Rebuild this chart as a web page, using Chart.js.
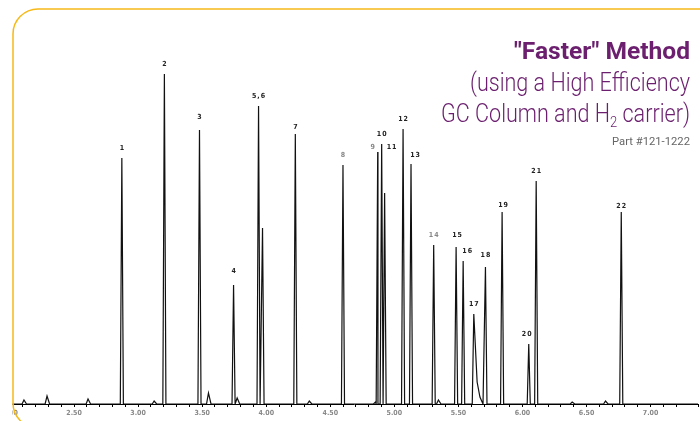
<!DOCTYPE html>
<html>
<head>
<meta charset="utf-8">
<script src="https://cdn.jsdelivr.net/npm/chart.js@4/dist/chart.umd.min.js"></script>
<style>
  html, body { margin: 0; padding: 0; background: #fff; }
  #wrap { width: 700px; height: 421px; position: relative; }
</style>
</head>
<body>
<div id="wrap"><canvas id="chrom"></canvas></div>
<script>
// retention time (min) and height (response, arbitrary units) of the numbered peaks
const peakNames   = ['1', '2', '3', '4', '5', '6', '7', '8', '9', '10', '11',
                     '12', '13', '14', '15', '16', '17', '18', '19', '20', '21', '22'];
const peakTimes   = [2.873, 3.205, 3.479, 3.745, 3.940, 3.971, 4.227, 4.599, 4.870, 4.901, 4.924,
                     5.068, 5.130, 5.307, 5.482, 5.537, 5.620, 5.711, 5.841, 6.049, 6.107, 6.771];
const peakHeights = [246, 330, 274, 119, 298, 176, 270, 239, 252, 260, 211,
                     275, 240, 159, 157, 143, 90, 137, 192, 60, 223, 192];
const peakTailing = [0.012, 0.012, 0.012, 0.012, 0.012, 0.012, 0.012, 0.012, 0.012, 0.011, 0.012,
                     0.012, 0.012, 0.012, 0.012, 0.012, 0.072, 0.012, 0.012, 0.012, 0.012, 0.012];
// what gets printed over each peak ('' = none, 5 and 6 share one label)
const peakLabels  = ['1', '2', '3', '4', '5,6', '', '7', '8', '9', '10', '11',
                     '12', '13', '14', '15', '16', '17', '18', '19', '20', '21', '22'];
const greyLabels  = ['8', '9', '14'];

// tail of peak 17
const tailTimes   = [5.646, 5.668];
const tailHeights = [22, 7];

// small unlabelled bumps on the baseline
const minorTimes   = [2.109, 2.289, 2.609, 3.125, 3.549, 3.773, 4.336, 4.852, 5.344, 6.388, 6.648];
const minorHeights = [4, 8, 5, 3, 11, 6, 3, 2, 4, 2, 3];

const xMin = 2.0, xMax = 7.37;
const tickStep = 0.1;

// label nudges in px (dx, dy above apex)
const labelNudge = {
  '3': [0, 13], '4': [0, 14], '7': [0, 7], '9': [-5, 5], '11': [7, 46], '13': [4, 9],
  '15': [1, 12], '16': [4, 10], '18': [0, 12], '19': [1, 7], '20': [-2, 10], '22': [0, 6]
};

// build the trace: every peak is baseline -> apex -> baseline
const trace = [{ x: xMin, y: 0 }];
peakTimes.forEach((t, i) => {
  trace.push({ x: t - 0.012, y: 0 }, { x: t, y: peakHeights[i] }, { x: t + peakTailing[i], y: 0 });
});
tailTimes.forEach((t, i) => trace.push({ x: t, y: tailHeights[i] }));
minorTimes.forEach((t, i) => {
  trace.push({ x: t - 0.015, y: 0 }, { x: t, y: minorHeights[i] }, { x: t + 0.02, y: 0 });
});
trace.push({ x: xMax, y: 0 });
trace.sort((a, b) => a.x - b.x);

const narrow = "'Liberation Sans Narrow', 'DejaVu Sans Condensed', 'Roboto', sans-serif";

// right aligned text squeezed to a given width
function squeezed(ctx, parts, right, width) {
  let total = 0;
  parts.forEach(p => { ctx.font = p.font; total += ctx.measureText(p.text).width; });
  const k = width / total;
  ctx.save();
  ctx.translate(right - width, 0);
  ctx.scale(k, 1);
  ctx.textAlign = 'left';
  let x = 0;
  parts.forEach(p => {
    ctx.font = p.font;
    ctx.fillText(p.text, x, p.y);
    x += ctx.measureText(p.text).width;
  });
  ctx.restore();
}

const decorPlugin = {
  id: 'decor',
  afterDraw(chart) {
    const ctx = chart.ctx;
    const xs = chart.scales.x, ys = chart.scales.y;
    ctx.save();

    // peak numbers
    ctx.font = 'bold 7px ' + narrow;
    ctx.textAlign = 'center';
    ctx.textBaseline = 'middle';
    ctx.letterSpacing = '1px';
    peakLabels.forEach((lab, i) => {
      if (!lab) return;
      const n = labelNudge[peakNames[i]] || [0, 10];
      ctx.fillStyle = greyLabels.includes(lab) ? '#888' : '#222';
      ctx.fillText(lab, xs.getPixelForValue(peakTimes[i]) + n[0] + 0.5,
                   ys.getPixelForValue(peakHeights[i]) - n[1]);
    });
    ctx.letterSpacing = '0px';

    // title block, right aligned
    const rx = 690;
    ctx.textBaseline = 'alphabetic';
    ctx.fillStyle = '#6b1f6e';
    squeezed(ctx, [{ text: '"Faster" Method', font: 'bold 24px Roboto', y: 59 }], rx, 176);
    squeezed(ctx, [{ text: '(using a High Efficiency', font: '300 25px Roboto', y: 91 }], rx, 220);
    squeezed(ctx, [
      { text: 'GC Column and H', font: '300 25px Roboto', y: 122 },
      { text: '2', font: '300 15px Roboto', y: 127 },
      { text: ' carrier)', font: '300 25px Roboto', y: 122 }
    ], rx, 249);
    ctx.fillStyle = '#666';
    squeezed(ctx, [{ text: 'Part #121-1222', font: '11px Roboto', y: 145 }], rx, 78);

    // mask outside the frame and draw the rounded frame
    ctx.fillStyle = '#fff';
    ctx.fillRect(0, 0, 12.5, chart.height);
    ctx.strokeStyle = '#f7b918';
    ctx.lineWidth = 1.5;
    ctx.beginPath();
    ctx.roundRect(13, 9, 740, 419, 25);
    ctx.stroke();
    ctx.restore();
  }
};

new Chart(document.getElementById('chrom'), {
  type: 'line',
  data: {
    datasets: [{
      data: trace,
      borderColor: '#111',
      borderWidth: 1.2,
      pointRadius: 0,
      tension: 0,
      fill: false
    }]
  },
  options: {
    responsive: true,
    maintainAspectRatio: false,
    animation: false,
    layout: { padding: { left: 10, right: 0, top: 40, bottom: 2 } },
    plugins: { legend: { display: false }, tooltip: { enabled: false } },
    scales: {
      x: {
        type: 'linear',
        min: xMin,
        max: xMax,
        afterFit(scale) { scale.height = 15; },
        border: { display: true, color: '#000', width: 1 },
        grid: { drawOnChartArea: false, drawTicks: true, tickLength: 3, color: '#000' },
        ticks: {
          stepSize: tickStep,
          autoSkip: false,
          maxRotation: 0,
          padding: 2,
          color: '#888',
          font: { size: 7, weight: 'bold', family: narrow },
          callback(v) {
            return Math.abs(v * 2 - Math.round(v * 2)) < 1e-6 ? v.toFixed(2) : '';
          }
        }
      },
      y: { display: false, min: 0, max: 364 }
    }
  },
  plugins: [decorPlugin]
});
</script>
</body>
</html>
